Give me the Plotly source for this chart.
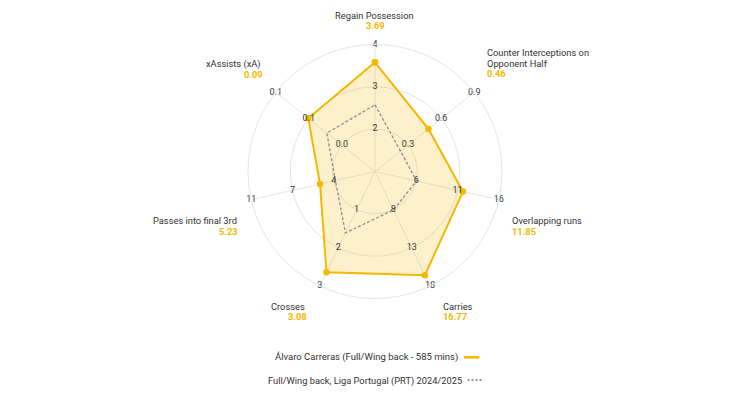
import plotly.graph_objects as go

# ---------------- data ----------------
categories = ["Regain Possession", "Counter Interceptions on<br>Opponent Half", "Overlapping runs",
              "Carries", "Crosses", "Passes into final 3rd", "xAssists (xA)"]
player_values = [3.69, 0.46, 11.85, 16.77, 3.08, 5.23, 0.09]
league_values = [2.47, 0.22, 5.97, 7.94, 1.98, 3.99, 0.065]
axis_min = [0.56, 0.0, 0.71, 2.73, 0.264, 0.79, 0.0]
axis_max = [4.20, 0.855, 16.40, 18.23, 3.464, 10.79, 0.134]
tick_labels = [["2", "3", "4"], ["0.3", "0.6", "0.9"], ["6", "11", "16"], ["8", "13", "18"],
               ["1", "2", "3"], ["4", "7", "11"], ["0.0", "0.1", "0.1"]]
player_name = "Álvaro Carreras (Full/Wing back - 585 mins)"
league_name = "Full/Wing back, Liga Portugal (PRT) 2024/2025"

# ---------------- styles ----------------
W, H = 750, 403
OFF = 8  # page body margin
YELLOW = "#f5b800"
FILL = "rgba(245,184,0,0.2)"
GRID = "#e2e5eb"
TXT = "#333333"
FONT = "Roboto"

keys = [c.replace("<br>", " ") for c in categories]


def norm(v, lo, hi):
    return (v - lo) / (hi - lo)


r_player = [norm(v, a, b) for v, a, b in zip(player_values, axis_min, axis_max)]
r_league = [norm(v, a, b) for v, a, b in zip(league_values, axis_min, axis_max)]

fig = go.Figure()
fig.add_trace(go.Scatterpolar(
    r=r_player + r_player[:1], theta=keys + keys[:1], mode="lines+markers",
    line=dict(color=YELLOW, width=2), marker=dict(size=6.5, color=YELLOW),
    fill="toself", fillcolor=FILL, showlegend=False, hoverinfo="skip"))
fig.add_trace(go.Scatterpolar(
    r=r_league + r_league[:1], theta=keys + keys[:1], mode="lines",
    line=dict(color="#8c8c8c", width=1.3, dash="3px,2px"), showlegend=False, hoverinfo="skip"))

# per-axis tick labels
tr, tt, tx = [], [], []
for k, labs in zip(keys, tick_labels):
    for i, lab in enumerate(labs):
        tr.append((i + 1) / 3)
        tt.append(k)
        tx.append(lab)
fig.add_trace(go.Scatterpolar(
    r=tr, theta=tt, text=tx, mode="text", textfont=dict(family=FONT, size=9, color="#3a3a3a"),
    showlegend=False, hoverinfo="skip", cliponaxis=False))


def px(x):
    return (x - OFF) / W


def py(y):
    return 1 - (y - OFF) / H


cx, cy, R = 375, 171.5, 127
fig.update_layout(
    width=W, height=H, margin=dict(l=0, r=0, t=0, b=0),
    paper_bgcolor="white", plot_bgcolor="white",
    polar=dict(
        domain=dict(x=[px(cx - R), px(cx + R)], y=[py(cy + R), py(cy - R)]),
        bgcolor="rgba(0,0,0,0)",
        radialaxis=dict(range=[0, 1], tickvals=[1 / 3, 2 / 3, 1], showticklabels=False,
                        showline=False, ticks="", gridcolor=GRID, gridwidth=1),
        angularaxis=dict(rotation=90, direction="clockwise", type="category",
                         categoryarray=keys, showticklabels=False, ticks="",
                         gridcolor=GRID, linecolor=GRID, showline=True),
    ),
    showlegend=False,
)

# axis names + values (positions in pixels)
label_pos = [
    # (x, y_name, anchor, x_val, y_val)
    (374, 15.7, "center", 375, 25.7),
    (486, 52.7, "left", 486, 73.7),
    (510.5, 220.7, "left", 510.5, 231.3),
    (442, 306.7, "left", 442, 316.7),
    (305.5, 306.7, "right", 307.5, 316.3),
    (237.5, 220.7, "right", 239, 231),
    (261.5, 64, "right", 263.5, 74.3),
]

for cat, val, (xn, yn, anc, xv, yv) in zip(categories, player_values, label_pos):
    lines = cat.split("<br>")
    for j, ln in enumerate(lines):
        fig.add_annotation(x=px(xn), y=py(yn + j * 11.3), xref="paper", yref="paper", text=ln,
                           showarrow=False, xanchor=anc, yanchor="middle", borderpad=0,
                           font=dict(family=FONT, size=9.3, color=TXT))
    fig.add_annotation(x=px(xv), y=py(yv), xref="paper", yref="paper", text=f"<b>{val:.2f}</b>",
                       showarrow=False, xanchor=anc, yanchor="middle", borderpad=0,
                       font=dict(family=FONT, size=9.3, color=YELLOW))

# custom legend (text then symbol)
fig.add_annotation(x=px(459), y=py(357.3), xref="paper", yref="paper", text=player_name,
                   showarrow=False, xanchor="right", yanchor="middle", borderpad=0,
                   font=dict(family=FONT, size=9.5, color=TXT))
fig.add_shape(type="line", xref="paper", yref="paper", x0=px(464), x1=px(479.5), y0=py(357.3), y1=py(357.3),
              line=dict(color=YELLOW, width=2.5))
fig.add_annotation(x=px(463.5), y=py(380.5), xref="paper", yref="paper", text=league_name,
                   showarrow=False, xanchor="right", yanchor="middle", borderpad=0,
                   font=dict(family=FONT, size=9.3, color=TXT))
fig.add_shape(type="line", xref="paper", yref="paper", x0=px(467.5), x1=px(483.5), y0=py(380), y1=py(380),
              line=dict(color="#999999", width=2, dash="2px,2px"))

fig.write_html("out.html")
